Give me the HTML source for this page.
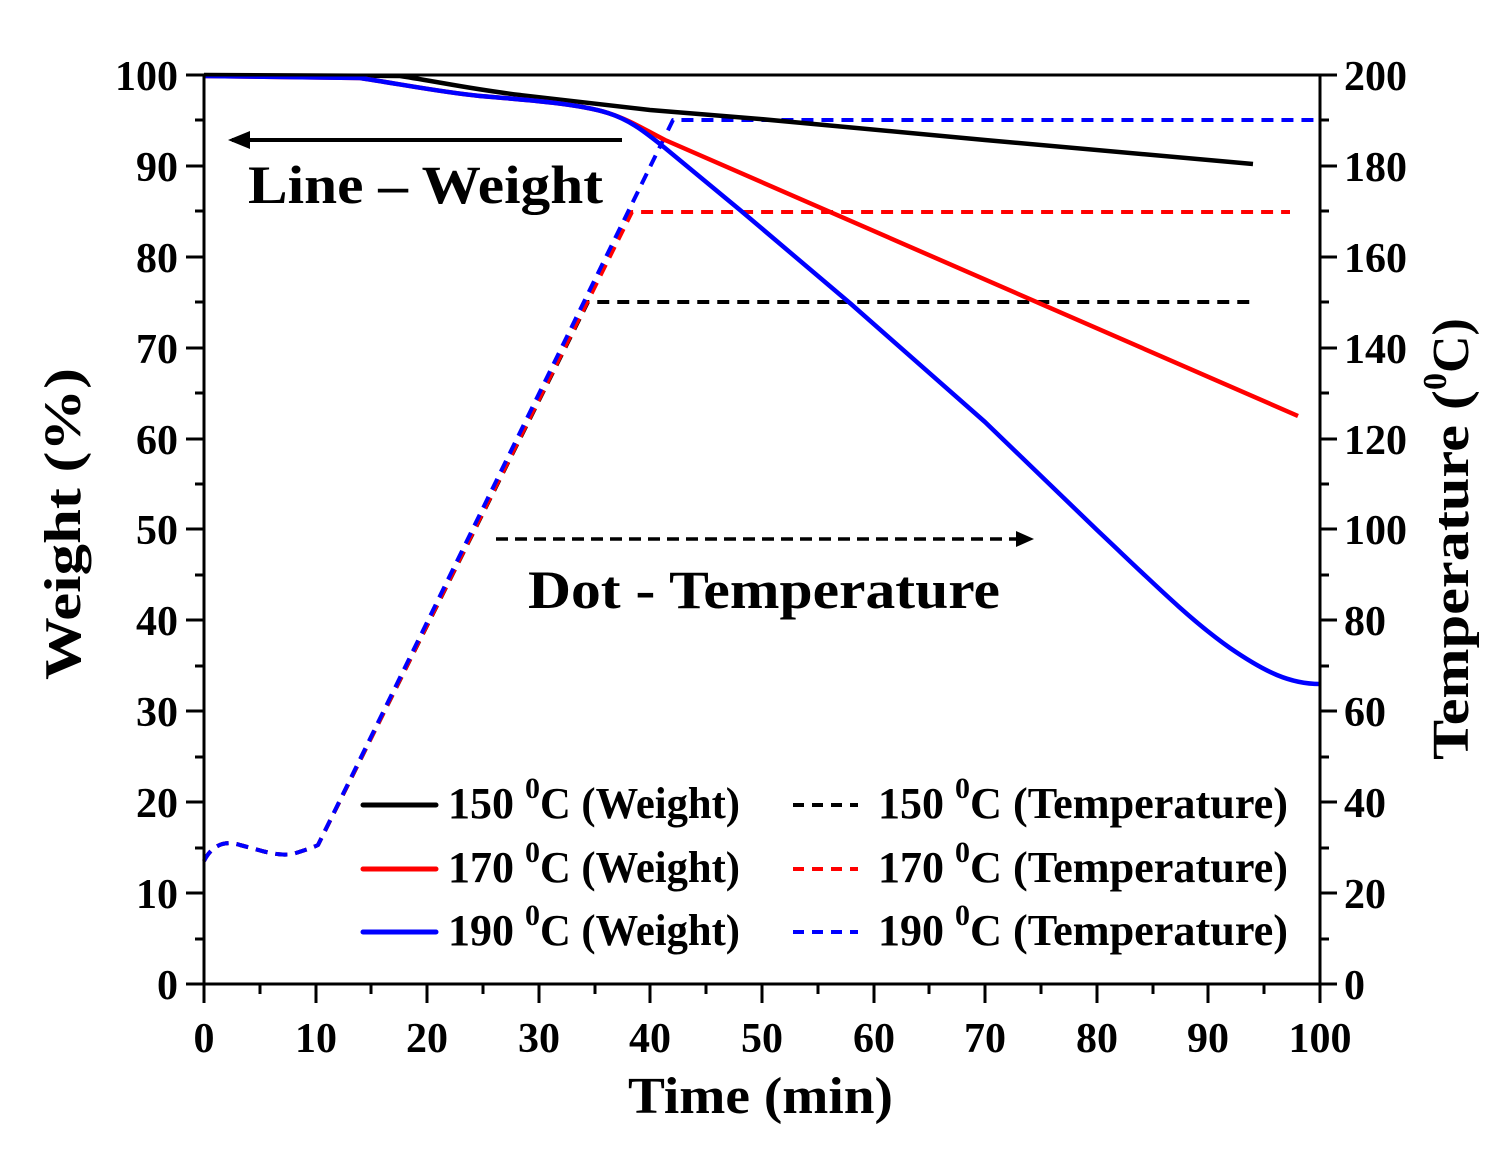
<!DOCTYPE html>
<html><head><meta charset="utf-8"><style>html,body{margin:0;padding:0;background:#fff}svg{display:block}text{font-family:"Liberation Serif",serif;font-weight:bold;fill:#000}</style></head><body>
<svg width="1512" height="1163" viewBox="0 0 1512 1163" xmlns="http://www.w3.org/2000/svg">
<g fill="none" stroke-linejoin="round" stroke-linecap="butt">
<path d="M204,861 C212,845 225,840 240,845 C260,850 280,858 296,853 C305,850 312,848 318,845 L588,302 L1250,302" stroke="#000" stroke-width="4" stroke-dasharray="12,8"/>
<path d="M204,861 C212,845 225,840 240,845 C260,850 280,858 296,853 C305,850 312,848 318,845 L632,212 L1290,212" stroke="#f00" stroke-width="4" stroke-dasharray="12,8"/>
<path d="M204,861 C212,845 225,840 240,845 C260,850 280,858 296,853 C305,850 312,848 318,845 L673,120 L1320,120" stroke="#00f" stroke-width="4" stroke-dasharray="12,8"/>
<path d="M204,75 L400,76 C440,82 470,89 520,95 C560,100 600,104 650,110 L760,119 L985,140 L1253,164" stroke="#000" stroke-width="4.5"/>
<path d="M204,76 L360,78 C400,84 440,92 480,96 C530,100 580,104 608,113 C630,120 645,130 665,140 L1298,416" stroke="#f00" stroke-width="4.5"/>
<path d="M204,76 L360,78 C400,84 440,92 480,96 C530,100 580,104 608,113 C630,120 645,132 665,148 L740,210 L851,304 L985,422 L1097,530 C1150,580 1190,620 1230,648 C1265,672 1290,684 1320,684" stroke="#00f" stroke-width="4.5"/>
</g>
<rect x="204" y="75" width="1116" height="909" fill="none" stroke="#000" stroke-width="3"/>
<g stroke="#000" stroke-width="3">
<path d="M186,75H204M186,166H204M186,257H204M186,348H204M186,439H204M186,529H204M186,620H204M186,711H204M186,802H204M186,893H204M186,984H204"/>
<path d="M195,120H204M195,211H204M195,302H204M195,393H204M195,484H204M195,575H204M195,666H204M195,757H204M195,848H204M195,939H204"/>
<path d="M1320,75H1337M1320,166H1337M1320,257H1337M1320,348H1337M1320,439H1337M1320,529H1337M1320,620H1337M1320,711H1337M1320,802H1337M1320,893H1337M1320,984H1337"/>
<path d="M1320,120H1329M1320,211H1329M1320,302H1329M1320,393H1329M1320,484H1329M1320,575H1329M1320,666H1329M1320,757H1329M1320,848H1329M1320,939H1329"/>
<path d="M204,984V1003M316,984V1003M427,984V1003M539,984V1003M650,984V1003M762,984V1003M874,984V1003M985,984V1003M1097,984V1003M1208,984V1003M1320,984V1003"/>
<path d="M260,984V994M371,984V994M483,984V994M595,984V994M706,984V994M818,984V994M929,984V994M1041,984V994M1153,984V994M1264,984V994"/>
</g>
<g font-size="42" text-anchor="end">
<text x="178" y="90">100</text><text x="178" y="181">90</text><text x="178" y="272">80</text><text x="178" y="363">70</text><text x="178" y="454">60</text><text x="178" y="544">50</text><text x="178" y="635">40</text><text x="178" y="726">30</text><text x="178" y="817">20</text><text x="178" y="908">10</text><text x="178" y="999">0</text>
</g>
<g font-size="42" text-anchor="start">
<text x="1344" y="90">200</text><text x="1344" y="181">180</text><text x="1344" y="272">160</text><text x="1344" y="363">140</text><text x="1344" y="454">120</text><text x="1344" y="544">100</text><text x="1344" y="635">80</text><text x="1344" y="726">60</text><text x="1344" y="817">40</text><text x="1344" y="908">20</text><text x="1344" y="999">0</text>
</g>
<g font-size="42" text-anchor="middle">
<text x="204" y="1052">0</text><text x="316" y="1052">10</text><text x="427" y="1052">20</text><text x="539" y="1052">30</text><text x="650" y="1052">40</text><text x="762" y="1052">50</text><text x="874" y="1052">60</text><text x="985" y="1052">70</text><text x="1097" y="1052">80</text><text x="1208" y="1052">90</text><text x="1320" y="1052">100</text>
</g>
<text x="628" y="1113" font-size="52" textLength="265" lengthAdjust="spacingAndGlyphs">Time (min)</text>
<text transform="translate(80,680) rotate(-90)" font-size="52" textLength="312" lengthAdjust="spacingAndGlyphs">Weight (%)</text>
<text transform="translate(1468,760) rotate(-90)" font-size="52"><tspan textLength="370" lengthAdjust="spacingAndGlyphs">Temperature (</tspan><tspan dy="-22" font-size="34">0</tspan><tspan dy="22">C)</tspan></text>
<path d="M232,140H622" stroke="#000" stroke-width="4"/><path d="M228,140L250,131L250,149Z" fill="#000"/>
<text x="248" y="203" font-size="54" textLength="355" lengthAdjust="spacingAndGlyphs">Line – Weight</text>
<path d="M496,539H1018" stroke="#000" stroke-width="3.5" stroke-dasharray="12,7"/><path d="M1034,539L1016,531L1016,547Z" fill="#000"/>
<text x="528" y="608" font-size="54" textLength="472" lengthAdjust="spacingAndGlyphs">Dot - Temperature</text>
<g stroke-width="5" stroke-linecap="round">
<path d="M363,805H436" stroke="#000"/><path d="M363,869H436" stroke="#f00"/><path d="M363,932H436" stroke="#00f"/>
</g>
<g stroke-width="4" stroke-dasharray="11,8">
<path d="M793,805H858" stroke="#000"/><path d="M793,869H858" stroke="#f00"/><path d="M793,932H858" stroke="#00f"/>
</g>
<g font-size="44">
<text x="448" y="818">150 <tspan dy="-20" font-size="30">0</tspan><tspan dy="20" textLength="200" lengthAdjust="spacingAndGlyphs">C (Weight)</tspan></text>
<text x="448" y="882">170 <tspan dy="-20" font-size="30">0</tspan><tspan dy="20" textLength="200" lengthAdjust="spacingAndGlyphs">C (Weight)</tspan></text>
<text x="448" y="945">190 <tspan dy="-20" font-size="30">0</tspan><tspan dy="20" textLength="200" lengthAdjust="spacingAndGlyphs">C (Weight)</tspan></text>
<text x="878" y="818">150 <tspan dy="-20" font-size="30">0</tspan><tspan dy="20" textLength="318" lengthAdjust="spacingAndGlyphs">C (Temperature)</tspan></text>
<text x="878" y="882">170 <tspan dy="-20" font-size="30">0</tspan><tspan dy="20" textLength="318" lengthAdjust="spacingAndGlyphs">C (Temperature)</tspan></text>
<text x="878" y="945">190 <tspan dy="-20" font-size="30">0</tspan><tspan dy="20" textLength="318" lengthAdjust="spacingAndGlyphs">C (Temperature)</tspan></text>
</g>
</svg>
</body></html>
